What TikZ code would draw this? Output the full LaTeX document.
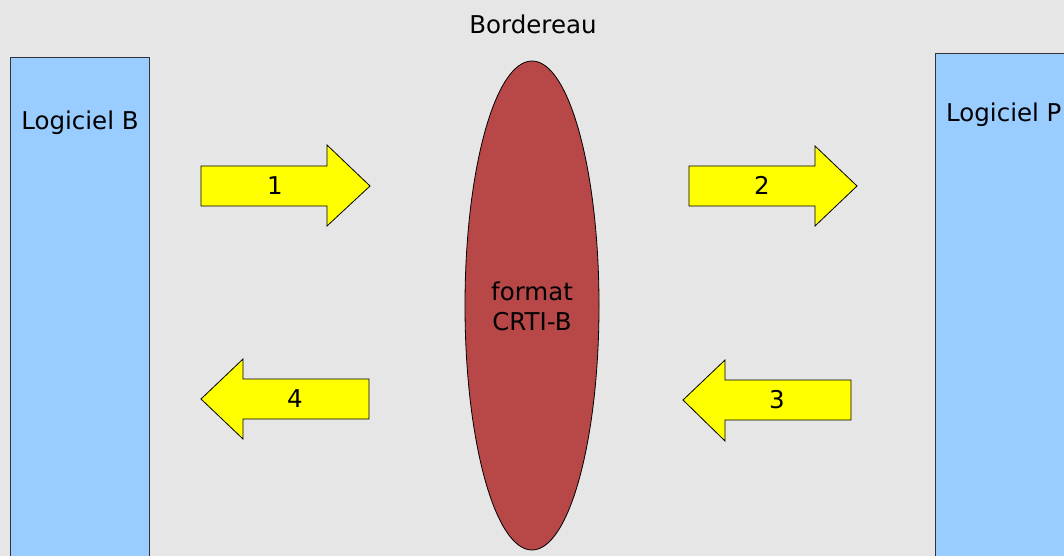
\documentclass[tikz,border=0pt]{standalone}
\usepackage{fontspec}
\setmainfont{DejaVu Sans}
\definecolor{bg}{HTML}{E6E6E6}
\definecolor{boxblue}{HTML}{99CCFF}
\definecolor{ellred}{HTML}{B84747}
\definecolor{arrowyellow}{HTML}{FFFF00}
\tikzset{
  lbl/.style={font=\fontsize{24.5}{30}\selectfont, inner sep=0pt, align=center, text=black},
  boxshape/.style={fill=boxblue, draw=black!80, line width=0.8pt},
  arrowshape/.style={fill=arrowyellow, draw=black, line width=0.8pt, line join=miter},
}
\begin{document}
\begin{tikzpicture}[x=1pt,y=-1pt]
\useasboundingbox (0,0) rectangle (1064,556);
\fill[bg] (0,0) rectangle (1064,556);
\clip (0,0) rectangle (1064,556);
% side boxes
\draw[boxshape] (10,580) -- (10,57) -- (149,57) -- (149,580);
\draw[boxshape] (935,580) -- (935,53) -- (1080,53) -- (1080,580);
% ellipse
\draw[fill=ellred, draw=black, line width=0.8pt] (532,305.5) ellipse [x radius=67, y radius=244.5];
% arrows
\draw[arrowshape] (201,166) -- (327,166) -- (327,145) -- (370,186) -- (327,226) -- (327,206) -- (201,206) -- cycle;
\draw[arrowshape] (689,166) -- (815,166) -- (815,146) -- (857,186) -- (815,226) -- (815,206) -- (689,206) -- cycle;
\draw[arrowshape] (851,380) -- (725,380) -- (725,360) -- (683,400) -- (725,441) -- (725,420) -- (851,420) -- cycle;
\draw[arrowshape] (369,379) -- (243,379) -- (243,359) -- (201,399) -- (243,439) -- (243,419) -- (369,419) -- cycle;
% labels
\node[lbl, anchor=base] (bord) at (533,34) {Bordereau};
\node[lbl, anchor=base] (logb) at (80,130) {Logiciel B};
\node[lbl, anchor=base west] (logp) at (946,122) {Logiciel P};
\node[lbl] (fmt) at (532,306) {format\\CRTI-B};
\node[lbl, anchor=base] (n1) at (275,194.5) {1};
\node[lbl, anchor=base] (n2) at (762,194.5) {2};
\node[lbl, anchor=base] (n3) at (777,408.5) {3};
\node[lbl, anchor=base] (n4) at (295,407.5) {4};
\end{tikzpicture}
\end{document}
